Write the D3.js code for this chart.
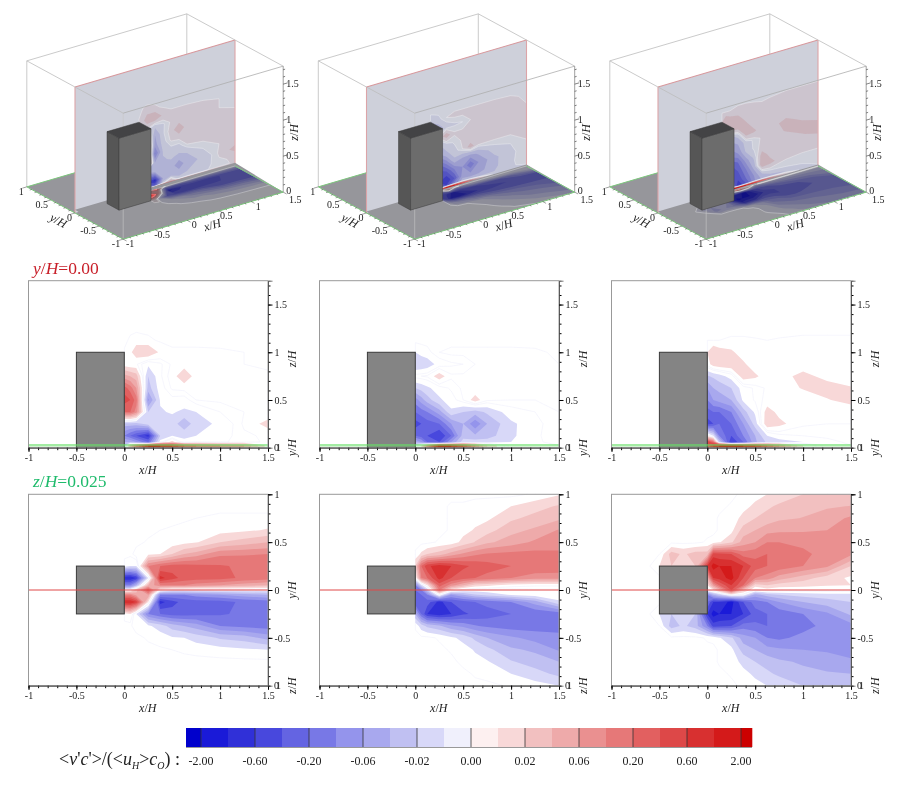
<!DOCTYPE html>
<html>
<head>
<meta charset="utf-8">
<script src="https://cdnjs.cloudflare.com/ajax/libs/d3/7.8.5/d3.min.js"></script>
<style>
  html, body { margin: 0; background: #fff; }
  svg { display: block; font-family: "Liberation Serif", serif; filter: blur(0.35px); }
  .tick text { font-size: 10px; fill: #222; font-family: "Liberation Serif", serif; }
</style>
</head>
<body>
<div id="chart"></div>
<script>
// contour steps of the colour bar (positive side, negative side mirrors it)
var stepValues = [0.01, 0.02, 0.035, 0.06, 0.11, 0.2, 0.35, 0.6, 1.1, 2];
var barLabels = ['-2.00', '-0.60', '-0.20', '-0.06', '-0.02', '0.00', '0.02', '0.06', '0.20', '0.60', '2.00'];
var barColors = ['#0000cc', '#1a1ad8', '#3030d8', '#4848dd', '#6464e2', '#7878e6', '#9494ec', '#a8a8ee', '#c0c0f2', '#d8d8f8', '#f0f0fc',
  '#fdf0f0', '#f8d8d8', '#f2c0c0', '#eeaaaa', '#ea9090', '#e67878', '#e26060', '#dd4848', '#d83030', '#d41a1a', '#cc0000'];

// measuring stations, in units of H
var sideX = [0, 0.0625, 0.125, 0.25, 0.375, 0.5, 0.625, 0.75, 1, 1.25, 1.5];
var sideZ = [0, 0.025, 0.06, 0.125, 0.25, 0.375, 0.5, 0.625, 0.75, 0.875, 1, 1.125, 1.25];
var planX = sideX;
var planXLong = [-0.625, -0.5, -0.375, -0.25, -0.125].concat(sideX);
var planY = [-1, -0.875, -0.75, -0.625, -0.5, -0.375, -0.25, -0.125, -0.05, 0, 0.05, 0.125, 0.25, 0.375, 0.5, 0.625, 0.75, 0.875, 1];

// y/H = 0 sections, one row per sideZ
var side1 = [
  [-0.02, 0.035, 0.2, 2, 2, 1.1, 0.35, 0.2, 0.11, 0.06, 0.005],
  [-0.02, 0.035, 0.2, 2, 2, 1.1, 0.35, 0.2, 0.11, 0.06, 0.005],
  [-0.035, -0.035, -0.06, -0.2, -0.005, 0.015, -0.008, -0.002, -0.003, 0, 0.003],
  [-0.11, -0.2, -0.35, -0.8, -0.02, -0.01, -0.012, -0.01, -0.005, 0.001, 0.003],
  [-0.027, -0.027, -0.027, -0.015, -0.013, -0.014, -0.032, -0.014, -0.008, 0.003, 0.014],
  [0.2, 0.2, 0.085, -0.02, -0.011, -0.009, -0.012, -0.01, -0.002, 0.002, 0.003],
  [0.47, 0.35, 0.155, -0.07, -0.009, -0.004, -0.005, 0.002, 0.003, 0.003, 0.003],
  [0.27, 0.155, 0.06, -0.027, -0.005, 0.003, 0.004, 0.005, 0.003, 0.003, 0.003],
  [0.045, 0.035, 0.027, -0.02, -0.003, 0.005, 0.019, 0.005, 0.003, 0.003, 0.003],
  [0.005, 0.003, 0.003, -0.008, -0.003, 0.003, 0.005, 0.003, 0.003, 0.002, 0.001],
  [0.003, 0.008, 0.016, 0.02, 0.008, 0.0035, 0.0035, 0.0035, 0.003, 0.002, 0],
  [0, 0.0035, 0.006, 0.0035, 0.001, 0, 0, 0, 0, 0, 0],
  [0, 0, 0, 0, 0, 0, 0, 0, 0, 0, 0]
];
var side2 = [
  [-0.01, 0.01, 0.11, 2.6, 2, 0.6, 0.11, 0.02, -0.005, -0.003, -0.002],
  [-0.01, 0.01, 0.11, 2.6, 2, 0.6, 0.11, 0.02, -0.005, -0.003, -0.002],
  [-0.035, -0.06, -0.2, -0.35, -0.06, -0.015, -0.015, -0.015, -0.01, -0.003, 0],
  [-0.2, -0.27, -0.35, -0.6, -0.2, -0.027, -0.032, -0.027, -0.012, -0.003, 0.001],
  [-0.47, -0.35, -0.27, -0.2, -0.06, -0.035, -0.1, -0.035, -0.012, -0.004, 0.002],
  [-0.2, -0.155, -0.11, -0.047, -0.012, -0.02, -0.027, -0.018, -0.005, -0.002, 0.002],
  [-0.085, -0.047, -0.027, -0.012, -0.005, 0.002, 0.015, 0.003, 0.002, 0.002, 0.002],
  [-0.02, -0.016, -0.012, -0.005, -0.001, 0.003, 0.003, 0.003, 0.003, 0.003, 0.003],
  [0.001, 0.002, 0.003, 0.016, 0.003, 0.003, 0.005, 0.003, 0.003, 0.003, 0.003],
  [-0.02, -0.019, -0.016, -0.006, -0.003, -0.002, 0.002, 0.003, 0.003, 0.003, 0.002],
  [-0.01, -0.006, -0.004, 0.002, 0.0035, 0.0035, 0.0035, 0.0035, 0.0035, 0.003, 0.001],
  [0, 0, 0, 0, 0, 0, 0, 0, 0, 0, 0],
  [0, 0, 0, 0, 0, 0, 0, 0, 0, 0, 0]
];
var side3 = [
  [0.35, 1.1, 2, 2.6, 2, 1.1, 0.35, 0.11, 0.01, -0.005, -0.002],
  [0.35, 1.1, 2, 2.6, 2, 1.1, 0.35, 0.11, 0.01, -0.005, -0.002],
  [0.6, 0.2, -0.02, -0.6, -0.2, -0.04, -0.018, -0.015, -0.01, -0.005, 0],
  [0.008, -0.01, -0.11, -0.35, -0.11, -0.035, -0.01, -0.004, -0.002, 0, 0],
  [-0.47, -0.35, -0.2, -0.2, -0.06, -0.015, 0.018, 0.013, 0.003, 0.002, 0.002],
  [-0.27, -0.2, -0.2, -0.11, -0.027, -0.008, 0.015, 0.007, 0.003, 0.002, 0.002],
  [-0.11, -0.06, -0.05, -0.035, -0.008, -0.001, 0.004, 0.003, 0.003, 0.009, 0.015],
  [-0.06, -0.035, -0.03, -0.02, -0.005, -0.001, 0.003, 0.004, 0.011, 0.016, 0.011],
  [-0.022, -0.018, -0.014, -0.006, 0.016, 0.012, 0.005, 0.005, 0.014, 0.006, 0.003],
  [0.005, 0.015, 0.017, 0.018, 0.012, 0.004, 0.003, 0.003, 0.0035, 0.0035, 0.0035],
  [0.01, 0.02, 0.015, 0.012, 0.005, 0.0035, 0.0035, 0.0035, 0.0035, 0.0035, 0.0035],
  [0.002, 0.002, 0.002, 0.003, 0.003, 0.0025, 0.002, 0.0025, 0.0035, 0.0035, 0.0035],
  [0, 0, 0, 0, 0, 0, 0, 0, 0, 0, 0]
];

// z/H = 0.025 sections, one row per planY
var plan1 = [
  [0, 0, 0, 0, 0, 0, 0, 0, 0, 0, 0],
  [0, 0, 0, 0, 0, 0, 0, 0, 0, 0, 0],
  [0, 0, 0, 0, 0, 0, 0, 0, 0, 0, 0],
  [0, 0, 0, 0, -0.001, -0.002, -0.003, -0.004, -0.006, -0.008, -0.01],
  [0, 0, 0, -0.003, -0.005, -0.009, -0.01, -0.014, -0.022, -0.027, -0.045],
  [0, -0.001, -0.005, -0.008, -0.015, -0.027, -0.035, -0.047, -0.11, -0.137, -0.155],
  [0.005, 0.01, -0.01, -0.11, -0.2, -0.27, -0.27, -0.25, -0.22, -0.18, -0.16],
  [1.1, 1.1, 0.6, 0.01, -0.8, -0.45, -0.29, -0.27, -0.26, -0.18, -0.155],
  [0.11, 0.11, 0.047, 0.06, -0.11, -0.11, -0.11, -0.085, -0.06, -0.047, -0.035],
  [0, 0, 0.027, 0.35, 0.005, -0.005, -0.005, -0.005, -0.005, -0.005, -0.005],
  [-0.11, -0.11, -0.035, 0.035, 0.11, 0.11, 0.11, 0.085, 0.06, 0.047, 0.035],
  [-1.1, -1.1, -0.6, -0.01, 0.8, 0.45, 0.29, 0.27, 0.26, 0.18, 0.155],
  [-0.005, -0.01, -0.01, 0.11, 0.2, 0.27, 0.27, 0.25, 0.22, 0.18, 0.16],
  [0, 0, 0.005, 0.008, 0.01, 0.02, 0.035, 0.047, 0.1, 0.105, 0.11],
  [0, 0, 0, 0.003, 0.004, 0.005, 0.007, 0.009, 0.02, 0.027, 0.035],
  [0, 0, 0, 0, 0.002, 0.0025, 0.003, 0.004, 0.006, 0.008, 0.011],
  [0, 0, 0, 0, 0, 0.001, 0.0015, 0.002, 0.0035, 0.0035, 0.0035],
  [0, 0, 0, 0, 0, 0, 0, 0, 0, 0, 0],
  [0, 0, 0, 0, 0, 0, 0, 0, 0, 0, 0]
];
var plan2 = [
  [0, 0, 0, 0, 0, 0, 0, 0, -0.003, -0.006, -0.01],
  [0, 0, 0, 0, 0, 0, -0.003, -0.005, -0.01, -0.016, -0.024],
  [0, 0, 0, 0, 0, -0.004, -0.007, -0.009, -0.019, -0.027, -0.035],
  [0, 0, 0, 0, -0.003, -0.006, -0.011, -0.017, -0.032, -0.04, -0.066],
  [0, 0, 0, -0.003, -0.008, -0.013, -0.024, -0.035, -0.055, -0.08, -0.095],
  [-0.003, -0.015, -0.024, -0.032, -0.055, -0.075, -0.105, -0.13, -0.155, -0.155, -0.145],
  [-0.035, -0.2, -0.6, -0.9, -0.6, -0.39, -0.32, -0.27, -0.2, -0.19, -0.165],
  [-0.35, -0.2, -0.27, -0.8, -0.35, -0.27, -0.2, -0.17, -0.11, -0.047, -0.012],
  [-0.27, -0.2, -0.11, 0, -0.06, -0.035, -0.022, -0.016, -0.009, -0.005, -0.003],
  [-0.2, -0.11, -0.02, 0.11, 0.008, -0.003, -0.005, -0.005, -0.004, -0.003, -0.003],
  [-0.11, -0.015, 0.01, 0.27, 0.085, 0.035, 0.015, 0.013, 0.005, 0.003, 0.003],
  [0, 0.11, 0.2, 0.8, 0.35, 0.27, 0.2, 0.17, 0.11, 0.08, 0.08],
  [0.02, 0.2, 0.55, 0.85, 0.6, 0.4, 0.32, 0.27, 0.2, 0.19, 0.18],
  [0.003, 0.012, 0.02, 0.027, 0.047, 0.07, 0.1, 0.12, 0.14, 0.14, 0.13],
  [0, 0, 0, 0.003, 0.005, 0.013, 0.021, 0.032, 0.047, 0.07, 0.085],
  [0, 0, 0, 0, 0.003, 0.007, 0.011, 0.016, 0.03, 0.04, 0.065],
  [0, 0, 0, 0, 0.003, 0.004, 0.007, 0.008, 0.018, 0.025, 0.032],
  [0, 0, 0, 0, 0.003, 0.003, 0.005, 0.006, 0.01, 0.016, 0.022],
  [0, 0, 0, 0, 0, 0, 0, 0, 0, 0.003, 0.009]
];
var plan3 = [
  [0, 0, 0, 0, 0, 0, 0, 0, 0, -0.004, -0.007, -0.01, -0.013, -0.02, -0.022, -0.025],
  [0, 0, 0, 0, 0, 0, 0, 0, -0.003, -0.007, -0.012, -0.018, -0.023, -0.03, -0.033, -0.035],
  [0, 0, 0, 0, 0, 0, 0, -0.003, -0.005, -0.013, -0.02, -0.026, -0.032, -0.039, -0.05, -0.058],
  [0, 0, 0, 0, 0, 0, 0, -0.003, -0.007, -0.027, -0.035, -0.05, -0.055, -0.06, -0.065, -0.07],
  [0, 0, 0, 0, 0, -0.003, -0.004, -0.009, -0.018, -0.047, -0.06, -0.11, -0.13, -0.095, -0.08, -0.075],
  [0, -0.002, -0.027, -0.018, -0.027, -0.11, -0.47, -0.43, -0.35, -0.155, -0.18, -0.2, -0.18, -0.14, -0.095, -0.08],
  [0, -0.01, -0.02, -0.01, -0.02, -0.6, -1.5, -1.1, -1.1, -0.6, -0.27, -0.2, -0.17, -0.11, -0.07, -0.032],
  [0, 0, 0, 0, 0, -0.2, -0.6, -0.6, -1.5, -0.35, -0.155, -0.11, -0.06, -0.035, -0.027, -0.02],
  [0, 0, 0, 0, 0, -0.11, -0.035, -0.02, 0.005, -0.003, -0.047, -0.027, -0.02, -0.016, -0.014, -0.013],
  [0, 0, 0, 0, 0, 0, 0.01, 0.035, 0.35, 0.027, 0, 0.005, 0.003, 0.003, 0.003, 0.002],
  [0, 0, 0, 0, 0, 0.01, 0.06, 0.2, 0.6, 0.2, 0.015, 0.02, 0.015, 0.013, 0.011, 0.01],
  [0, 0, 0, 0, 0, 0.035, 0.6, 0.8, 1.5, 0.35, 0.11, 0.085, 0.047, 0.027, 0.015, 0.008],
  [0, 0.01, 0.02, 0.01, 0.02, 0.6, 1.5, 1.1, 1.1, 0.6, 0.27, 0.2, 0.17, 0.11, 0.07, 0.02],
  [0, 0.002, 0.027, 0.018, 0.027, 0.027, 0.47, 0.43, 0.35, 0.155, 0.17, 0.2, 0.18, 0.137, 0.085, 0.07],
  [0, 0, 0, 0, 0, 0.003, 0.005, 0.009, 0.018, 0.047, 0.06, 0.11, 0.11, 0.095, 0.08, 0.07],
  [0, 0, 0, 0, 0, 0, 0, 0.003, 0.007, 0.027, 0.035, 0.05, 0.055, 0.057, 0.06, 0.08],
  [0, 0, 0, 0, 0, 0, 0, 0.003, 0.005, 0.013, 0.02, 0.026, 0.032, 0.036, 0.047, 0.07],
  [0, 0, 0, 0, 0, 0, 0, 0, 0.003, 0.007, 0.012, 0.018, 0.023, 0.03, 0.033, 0.036],
  [0, 0, 0, 0, 0, 0, 0, 0, 0, 0.004, 0.007, 0.01, 0.013, 0.02, 0.021, 0.024]
];

var xTicks = [-1, -0.5, 0, 0.5, 1, 1.5];
var zTicks = [0.5, 1, 1.5];
var yTicks = [-0.5, 0, 0.5, 1];

var sideGrids = [side1, side2, side3];
var planGrids = [plan1, plan2, plan3];
var planXs = [planX, planX, planXLong];

// layout
var panelLeft = [28.5, 319.5, 611.5];
var panelWidth = 239.5;
var sideTop = 280.7, sideBottom = 447.7;
var planTop = 494.3, planBottom = 685.7;
var view3dOffset = [0, 291.5, 583];
var floorLip = [0.045, 0.02, 0.02];

var svg = d3.select('#chart').append('svg').attr('width', 900).attr('height', 786);

// signed value -> position on the colour bar, so bands share out evenly
var stepScale = d3.scaleLinear()
  .domain(stepValues.slice().reverse().map(function(v) { return -v; }).concat([0], stepValues))
  .range(d3.range(-10, 11));

var bandSteps = [0.2].concat(d3.range(1, 11));

function fieldContours(grid) {
  var cols = grid[0].length, rows = grid.length;
  var flat = [];
  grid.forEach(function(row) { row.forEach(function(v) { flat.push(stepScale(v)); }); });
  var gen = d3.contours().size([cols, rows]).smooth(true).thresholds(bandSteps);
  return { pos: gen(flat), neg: gen(flat.map(function(v) { return -v; })) };
}

function gridPath(xs, ys, toPixel) {
  var ix = d3.scaleLinear().domain(d3.range(xs.length)).range(xs).clamp(true);
  var iy = d3.scaleLinear().domain(d3.range(ys.length)).range(ys).clamp(true);
  return d3.geoPath(d3.geoTransform({
    point: function(px, py) {
      var p = toPixel(ix(px - 0.5), iy(py - 0.5));
      this.stream.point(p[0], p[1]);
    }
  }));
}

function bandColor(step, sign) {
  var k = Math.floor(step);
  return sign > 0 ? barColors[11 + k] : barColors[10 - k];
}

// flat 2D contour map: near-zero band is only a faint outline
function drawField(g, grid, xs, ys, toPixel) {
  var path = gridPath(xs, ys, toPixel);
  var c = fieldContours(grid);
  [[c.pos, 1], [c.neg, -1]].forEach(function(set) {
    set[0].forEach(function(band) {
      var faint = band.value < 1;
      g.append('path')
        .attr('d', path(band))
        .attr('fill', faint ? 'none' : bandColor(band.value, set[1]))
        .attr('stroke', faint ? '#f0f0fb' : 'none')
        .attr('stroke-width', 0.6);
    });
  });
}

// same map laid on a surface of the 3D view, tinting what is under it;
// the strong red stays bright when asked for
function drawFieldOn3d(g, grid, xs, ys, toPixel, alpha, bright) {
  var path = gridPath(xs, ys, toPixel);
  var c = fieldContours(grid);
  var tint = g.append('g').style('mix-blend-mode', 'multiply');
  var hot = g.append('g');
  var lines = g.append('g');
  [[c.pos, 1], [c.neg, -1]].forEach(function(set) {
    set[0].forEach(function(band) {
      tint.append('path')
        .attr('d', path(band))
        .attr('fill', bandColor(band.value, set[1]))
        .attr('fill-opacity', alpha);
      if(bright && set[1] > 0 && band.value >= 5) {
        hot.append('path').attr('d', path(band)).attr('fill', bandColor(band.value, 1));
      }
      if(band.value < 1) {
        lines.append('path')
          .attr('d', path(band))
          .attr('fill', 'none')
          .attr('stroke', '#fff')
          .attr('stroke-opacity', 0.5)
          .attr('stroke-width', 0.6);
      }
    });
  });
}

function mixedLabel(g, x, y, size, parts, color) {
  var t = g.append('text').attr('x', x).attr('y', y).attr('font-size', size).attr('fill', color || '#222');
  parts.forEach(function(p) {
    var s = t.append('tspan').text(p[0]).attr('font-style', p[1] ? 'italic' : 'normal');
    if(p[2]) {
      s.attr('dy', p[2]);
    }
    if(p[3]) {
      s.attr('font-size', p[3]);
    }
  });
  return t;
}

function axisTitle(g, name, x, y, rotate) {
  var t = mixedLabel(g, 0, 0, 12, [[name, true], ['/', false], ['H', true]]);
  t.attr('text-anchor', 'middle').attr('transform', 'translate(' + x + ',' + y + ') rotate(' + (rotate || 0) + ')');
}

// 2D frame with the two tick scales, block and marker line
function drawFrame(k, top, bottom, yDomain, rightTicks, grid, ys, isSide) {
  var left = panelLeft[k], right = left + panelWidth;
  var x = d3.scaleLinear().domain([-1, 1.5]).range([left, right]);
  var y = d3.scaleLinear().domain(yDomain).range([bottom, top]);
  var g = svg.append('g');

  var xs = isSide ? sideX : planXs[k];
  drawField(g.append('g'), grid, xs, ys, function(a, b) { return [x(a), y(b)]; });

  var blockLow = isSide ? 0 : -0.25, blockHigh = isSide ? 1 : 0.25;
  g.append('rect')
    .attr('x', x(-0.5)).attr('y', y(blockHigh))
    .attr('width', x(0) - x(-0.5)).attr('height', y(blockLow) - y(blockHigh))
    .attr('fill', '#848484').attr('stroke', '#3a3a3a').attr('stroke-width', 1);

  if(isSide) {
    g.append('line')
      .attr('x1', left).attr('x2', right).attr('y1', y(0.025)).attr('y2', y(0.025))
      .attr('stroke', '#66e066').attr('stroke-opacity', 0.6).attr('stroke-width', 2.4);
  } else {
    g.append('line')
      .attr('x1', left).attr('x2', right).attr('y1', y(0)).attr('y2', y(0))
      .attr('stroke', '#e04848').attr('stroke-width', 1);
  }

  g.append('rect')
    .attr('x', left).attr('y', top).attr('width', panelWidth).attr('height', bottom - top)
    .attr('fill', 'none').attr('stroke', '#999').attr('stroke-width', 1);

  var minorX = d3.axisBottom(x).tickValues(d3.range(-10, 16).map(function(d) { return d / 10; })).tickSize(2.5).tickFormat('');
  var majorX = d3.axisBottom(x).tickValues(xTicks).tickSize(4).tickPadding(2).tickFormat(String);
  var minorY = d3.axisRight(y).tickValues(d3.range(Math.ceil(yDomain[0] * 10), Math.floor(yDomain[1] * 10) + 1).map(function(d) { return d / 10; })).tickSize(2.5).tickFormat('');
  var majorY = d3.axisRight(y).tickValues(rightTicks).tickSize(4.5).tickPadding(2).tickFormat(String);

  g.append('g').attr('transform', 'translate(0,' + bottom + ')').call(minorX);
  g.append('g').attr('transform', 'translate(0,' + bottom + ')').call(majorX);
  g.append('g').attr('transform', 'translate(' + right + ',0)').call(minorY);
  g.append('g').attr('transform', 'translate(' + right + ',0)').call(majorY);
  g.selectAll('.domain').attr('stroke', '#555').attr('stroke-width', 0.8);

  // the other axis collapses into the corner, its 0 and 1 printed nearly on top of each other
  g.append('text').attr('x', right + 6).attr('y', bottom + 3).attr('font-size', 10).attr('letter-spacing', -3).attr('fill', '#222').text('01');

  axisTitle(g, 'x', (x(-1) + x(1.5)) / 2 - 0.5, bottom + 26);
  if(isSide) {
    axisTitle(g, 'z', right + 28, y(0.93), -90);
    axisTitle(g, 'y', right + 28, bottom, -90);
  } else {
    axisTitle(g, 'y', right + 28, y(0), -90);
    axisTitle(g, 'z', right + 28, bottom, -90);
  }
}

// oblique view: fitted from the box corners of the left panel
function makeProject(k) {
  var ox = 139 + view3dOffset[k], oy = 194.2;
  return function(x, y, z) {
    return [ox + 64 * x - 48.2 * y, oy - 18.8 * x - 26.15 * y - 72 * z];
  };
}

function poly(project, pts) {
  return pts.map(function(p) { return project(p[0], p[1], p[2]).join(','); }).join(' ');
}

function edge(g, project, a, b, color, width) {
  var p = project(a[0], a[1], a[2]), q = project(b[0], b[1], b[2]);
  return g.append('line')
    .attr('x1', p[0]).attr('y1', p[1]).attr('x2', q[0]).attr('y2', q[1])
    .attr('stroke', color).attr('stroke-width', width);
}

function draw3d(k) {
  var project = makeProject(k);
  var g = svg.append('g').style('isolation', 'isolate');
  var boxLine = '#bdbdbd';

  // back of the box
  edge(g, project, [-1, 1, 0], [-1, 1, 1.75], boxLine, 0.8);
  edge(g, project, [-1, 1, 1.75], [1.5, 1, 1.75], boxLine, 0.8);
  edge(g, project, [1.5, 1, 1.75], [1.5, 1, 0], boxLine, 0.8);

  g.append('polygon')
    .attr('points', poly(project, [[-1, -1, 0], [1.5, -1, 0], [1.5, 1, 0], [-1, 1, 0]]))
    .attr('fill', '#96969b');

  // y/H = 0 plane
  g.append('polygon')
    .attr('points', poly(project, [[-1, 0, 0], [1.5, 0, 0], [1.5, 0, 1.75], [-1, 0, 1.75]]))
    .attr('fill', '#ced0da');
  drawFieldOn3d(g.append('g'), sideGrids[k], sideX, sideZ, function(a, b) { return project(a, 0, b); }, 0.9, k > 0);
  edge(g, project, [-1, 0, 0], [-1, 0, 1.75], '#dca4a8', 1.1);
  edge(g, project, [-1, 0, 1.75], [1.5, 0, 1.75], '#d8989c', 1.1);
  edge(g, project, [1.5, 0, 1.75], [1.5, 0, 0], '#dca4a8', 1.1);

  // front half of the floor sits before the plane and hides its lowest strip
  g.append('polygon')
    .attr('points', poly(project, [[-1, -1, 0], [1.5, -1, 0], [1.5, 0, floorLip[k]], [-1, 0, floorLip[k]]]))
    .attr('fill', '#96969b');
  var halfRows = planGrids[k].slice(0, planY.indexOf(0) + 1);
  var halfY = planY.slice(0, planY.indexOf(0) + 1);
  drawFieldOn3d(g.append('g'), halfRows, planXs[k], halfY, function(a, b) { return project(a, b, 0); }, 1, true);

  // front of the box, behind the block
  edge(g, project, [-1, -1, 0], [-1, -1, 1.75], '#c8c8c8', 0.8).attr('stroke-opacity', 0.75);

  // block, only its half in front of the plane shows
  g.append('polygon')
    .attr('points', poly(project, [[-0.5, -0.25, 0], [-0.5, 0, 0], [-0.5, 0, 1], [-0.5, -0.25, 1]]))
    .attr('fill', '#565656').attr('stroke', '#3c3c3c').attr('stroke-width', 0.5);
  g.append('polygon')
    .attr('points', poly(project, [[-0.5, -0.25, 0], [0, -0.25, 0], [0, -0.25, 1], [-0.5, -0.25, 1]]))
    .attr('fill', '#6c6c6c').attr('stroke', '#3c3c3c').attr('stroke-width', 0.5);
  g.append('polygon')
    .attr('points', poly(project, [[-0.5, -0.25, 1], [0, -0.25, 1], [0, 0, 1], [-0.5, 0, 1]]))
    .attr('fill', '#434345').attr('stroke', '#3c3c3c').attr('stroke-width', 0.5);

  edge(g, project, [-1, 1, 1.75], [-1, -1, 1.75], boxLine, 0.8);
  edge(g, project, [-1, -1, 1.75], [1.5, -1, 1.75], '#adadad', 0.8);
  edge(g, project, [1.5, 1, 1.75], [1.5, -1, 1.75], boxLine, 0.8);
  edge(g, project, [1.5, -1, 0], [1.5, -1, 1.75], '#888', 0.8);

  // green outline of the floor
  edge(g, project, [-1, 1, 0], [-1, -1, 0], '#7cc77c', 1);
  edge(g, project, [-1, -1, 0], [1.5, -1, 0], '#7cc77c', 1);
  edge(g, project, [-1, 1, 0], [-0.25, 1, 0], '#7cc77c', 1);
  edge(g, project, [1.5, -1, 0], [1.5, 0, 0], '#7cc77c', 1);

  // ticks and labels
  d3.range(-10, 16).forEach(function(d) {
    var v = d / 10, len = d % 5 === 0 ? 0.07 : 0.03;
    edge(g, project, [v, -1, 0], [v, -1 - len, 0], '#444', 0.5);
  });
  d3.range(-10, 11).forEach(function(d) {
    var v = d / 10, len = d % 5 === 0 ? 0.07 : 0.03;
    edge(g, project, [-1, v, 0], [-1 - len, v, 0], '#444', 0.5);
  });
  d3.range(1, 18).forEach(function(d) {
    var v = d / 10, len = d % 5 === 0 ? 0.07 : 0.03;
    edge(g, project, [1.5, -1, v], [1.5 + len, -1, v], '#333', 0.6);
  });
  xTicks.forEach(function(v) {
    var p = project(v, -1, 0);
    g.append('text').attr('x', p[0] + (v === 1.5 ? 12 : 7)).attr('y', p[1] + (v === 1.5 ? 11 : 8)).attr('text-anchor', 'middle')
      .attr('font-size', 10).attr('fill', '#222').text(v);
  });
  yTicks.concat([-1]).forEach(function(v) {
    var p = project(-1, v, 0);
    g.append('text').attr('x', p[0] - 3).attr('y', p[1] + 8).attr('text-anchor', 'end')
      .attr('font-size', 10).attr('fill', '#222').text(v);
  });
  zTicks.concat([0]).forEach(function(v) {
    var p = project(1.5, -1, v);
    g.append('text').attr('x', p[0] + 3).attr('y', p[1] + (v === 0 ? 1.5 : 3)).attr('font-size', 10).attr('fill', '#222').text(v);
  });

  var xt = project(0.35, -1, 0), yt = project(-1, 0.3, 0), zt = project(1.5, -1, 0.83);
  axisTitle(g, 'x', xt[0] + 4, xt[1] + 15, -17);
  axisTitle(g, 'y', yt[0] - 4, yt[1] + 19, 28);
  axisTitle(g, 'z', zt[0] + 15, zt[1], -90);
}

d3.range(3).forEach(function(k) {
  draw3d(k);
  drawFrame(k, sideTop, sideBottom, [0, 1.75], zTicks, sideGrids[k], sideZ, true);
  drawFrame(k, planTop, planBottom, [-1, 1], yTicks, planGrids[k], planY, false);
});

// row captions
mixedLabel(svg, 33, 274, 17.5, [['y', true], ['/', false], ['H', true], ['=0.00', false]], '#c81e28');
mixedLabel(svg, 33, 487, 17.5, [['z', true], ['/', false], ['H', true], ['=0.025', false]], '#1fbb6c');

// colour bar
var barX = d3.scaleLinear().domain([0, 20]).range([201, 741]);
var barTop = 728, barBottom = 747;
var barCells = barColors.map(function(c, i) {
  return { color: c, x0: i === 0 ? 186 : barX(i - 1), x1: i === barColors.length - 1 ? 752 : barX(i) };
});
svg.append('g').selectAll('rect').data(barCells).join('rect')
  .attr('x', function(d) { return d.x0; })
  .attr('y', barTop)
  .attr('width', function(d) { return d.x1 - d.x0 + 0.3; })
  .attr('height', barBottom - barTop)
  .attr('fill', function(d) { return d.color; });
svg.append('g').selectAll('line').data(barLabels).join('line')
  .attr('x1', function(d, i) { return barX(i * 2); })
  .attr('x2', function(d, i) { return barX(i * 2); })
  .attr('y1', barTop).attr('y2', barBottom)
  .attr('stroke', '#333').attr('stroke-width', 0.8);
svg.append('line').attr('x1', 186).attr('x2', 752).attr('y1', barBottom + 0.5).attr('y2', barBottom + 0.5)
  .attr('stroke', '#999').attr('stroke-width', 1);
svg.append('g').selectAll('text').data(barLabels).join('text')
  .attr('x', function(d, i) { return barX(i * 2); })
  .attr('y', 765)
  .attr('text-anchor', 'middle')
  .attr('font-size', 12)
  .attr('fill', '#222')
  .text(function(d) { return d; });

mixedLabel(svg, 59, 765, 18, [
  ['<', false], ['v', true], ["'", false], ['c', true], ["'", false], ['>/(<', false], ['u', true],
  ['H', true, 4, 10], ['>', false, -4, 18], ['c', true], ['O', true, 4, 10], [')', false, -4, 18], [' :', false]
]);
</script>
</body>
</html>
